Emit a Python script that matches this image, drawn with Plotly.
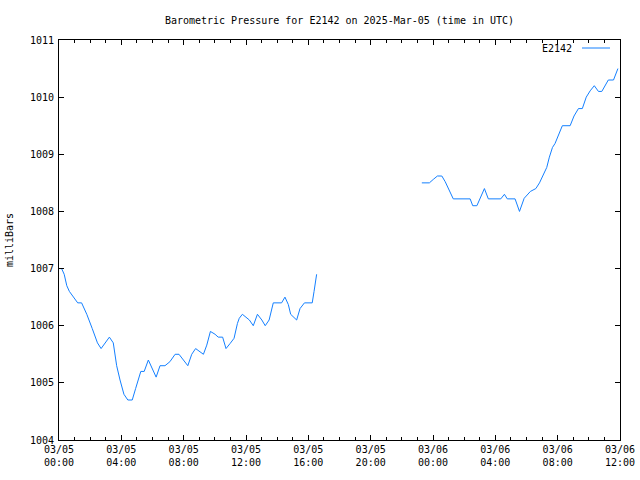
import plotly.graph_objects as go

times = [
    "2025-03-05 00:00", "2025-03-05 00:10", "2025-03-05 00:20", "2025-03-05 00:30",
    "2025-03-05 00:40", "2025-03-05 00:55", "2025-03-05 01:12", "2025-03-05 01:27",
    "2025-03-05 01:47", "2025-03-05 02:08", "2025-03-05 02:28", "2025-03-05 02:42",
    "2025-03-05 03:14", "2025-03-05 03:29", "2025-03-05 03:42", "2025-03-05 03:55",
    "2025-03-05 04:10", "2025-03-05 04:25", "2025-03-05 04:42", "2025-03-05 04:55",
    "2025-03-05 05:15", "2025-03-05 05:28", "2025-03-05 05:44", "2025-03-05 06:14",
    "2025-03-05 06:29", "2025-03-05 06:48", "2025-03-05 07:07", "2025-03-05 07:27",
    "2025-03-05 07:42", "2025-03-05 08:16", "2025-03-05 08:31", "2025-03-05 08:46",
    "2025-03-05 09:16", "2025-03-05 09:29", "2025-03-05 09:43", "2025-03-05 10:01",
    "2025-03-05 10:13", "2025-03-05 10:30", "2025-03-05 10:43", "2025-03-05 10:59",
    "2025-03-05 11:14", "2025-03-05 11:27", "2025-03-05 11:34", "2025-03-05 11:46",
    "2025-03-05 12:13", "2025-03-05 12:28", "2025-03-05 12:44", "2025-03-05 13:01",
    "2025-03-05 13:14", "2025-03-05 13:29", "2025-03-05 13:45", "2025-03-05 14:17",
    "2025-03-05 14:30", "2025-03-05 14:43", "2025-03-05 14:52", "2025-03-05 15:15",
    "2025-03-05 15:28", "2025-03-05 15:45", "2025-03-05 16:15", "2025-03-05 16:22",
    "2025-03-05 16:32",
    "2025-03-05 20:00",
    "2025-03-05 23:17", "2025-03-05 23:46", "2025-03-06 00:01", "2025-03-06 00:17",
    "2025-03-06 00:34", "2025-03-06 00:47", "2025-03-06 01:18", "2025-03-06 02:23",
    "2025-03-06 02:33", "2025-03-06 02:49", "2025-03-06 03:18", "2025-03-06 03:33",
    "2025-03-06 04:21", "2025-03-06 04:35", "2025-03-06 04:46", "2025-03-06 05:16",
    "2025-03-06 05:33", "2025-03-06 05:51", "2025-03-06 06:15", "2025-03-06 06:36",
    "2025-03-06 06:50", "2025-03-06 07:05", "2025-03-06 07:18", "2025-03-06 07:28",
    "2025-03-06 07:40", "2025-03-06 07:50", "2025-03-06 08:03", "2025-03-06 08:18",
    "2025-03-06 08:48", "2025-03-06 09:03", "2025-03-06 09:20", "2025-03-06 09:35",
    "2025-03-06 09:50", "2025-03-06 10:05", "2025-03-06 10:21", "2025-03-06 10:37",
    "2025-03-06 10:50", "2025-03-06 11:15", "2025-03-06 11:35", "2025-03-06 11:45",
    "2025-03-06 11:52",
]

pressure = [
    1007.0, 1007.0, 1006.9, 1006.7,
    1006.6, 1006.5, 1006.4, 1006.4,
    1006.2, 1005.95, 1005.7, 1005.6,
    1005.8, 1005.7, 1005.3, 1005.05,
    1004.8, 1004.7, 1004.7, 1004.9,
    1005.2, 1005.2, 1005.4, 1005.1,
    1005.3, 1005.3, 1005.37, 1005.5,
    1005.5, 1005.3, 1005.5, 1005.6,
    1005.5, 1005.66, 1005.9, 1005.85,
    1005.8, 1005.8, 1005.6, 1005.69,
    1005.78, 1006.04, 1006.13, 1006.2,
    1006.1, 1006.0, 1006.2, 1006.1,
    1006.0, 1006.1, 1006.4, 1006.4,
    1006.5, 1006.37, 1006.2, 1006.1,
    1006.3, 1006.4, 1006.4, 1006.6,
    1006.9,
    None,
    1008.5, 1008.5, 1008.56, 1008.62,
    1008.62, 1008.52, 1008.22, 1008.22,
    1008.1, 1008.1, 1008.4, 1008.22,
    1008.22, 1008.3, 1008.22, 1008.22,
    1008.0, 1008.23, 1008.35, 1008.4,
    1008.5, 1008.64, 1008.77, 1008.95,
    1009.12, 1009.19, 1009.34, 1009.5,
    1009.5, 1009.67, 1009.8, 1009.8,
    1010.0, 1010.11, 1010.2, 1010.1,
    1010.1, 1010.3, 1010.3, 1010.42,
    1010.5,
]

station = "E2142"
title_text = "Barometric Pressure for E2142 on 2025-Mar-05 (time in UTC)"
y_label = "milliBars"
line_color = "#1480ff"
font_family = "DejaVu Sans Mono"

fig = go.Figure()
fig.add_trace(go.Scatter(
    x=times, y=pressure, mode="lines",
    line=dict(color=line_color, width=1),
    connectgaps=False, name=station, showlegend=False,
))

fig.update_layout(
    width=640, height=480,
    margin=dict(l=59, r=20, t=40, b=40, autoexpand=False),
    paper_bgcolor="white", plot_bgcolor="white",
    font=dict(family=font_family, size=10, color="black"),
    title=dict(text=title_text, x=0.5, xref="paper", xanchor="center",
               y=1 - 20 / 480, yanchor="middle",
               font=dict(family=font_family, size=10, color="black")),
)

fig.update_xaxes(
    type="date", automargin=False,
    range=["2025-03-05 00:00", "2025-03-06 12:00"],
    tick0="2025-03-05 00:00", dtick=4 * 3600 * 1000,
    tickformat="%m/%d<br>%H:%M",
    ticks="inside", ticklen=5, tickcolor="black", tickwidth=1,
    minor=dict(dtick=3600 * 1000, ticks="inside", ticklen=3,
               tickcolor="black", tickwidth=1, showgrid=False),
    showline=True, linecolor="black", linewidth=1, mirror="ticks",
    showgrid=False, zeroline=False,
    tickfont=dict(family=font_family, size=10),
)

fig.update_yaxes(
    automargin=False,
    range=[1004, 1011], dtick=1, tick0=1004,
    ticks="inside", ticklen=5, tickcolor="black", tickwidth=1,
    ticklabelstandoff=2,
    showline=True, linecolor="black", linewidth=1, mirror="ticks",
    showgrid=False, zeroline=False,
    title=dict(text=y_label, standoff=14, font=dict(family=font_family, size=10)),
    tickfont=dict(family=font_family, size=10),
)

# gnuplot-style key: text on the left, line sample on the right
fig.add_annotation(
    xref="paper", yref="paper", x=(574 - 59) / 561, y=(440 - 48) / 400,
    text=station, showarrow=False, xanchor="right", yanchor="middle",
    font=dict(family=font_family, size=10, color="black"),
)
fig.add_shape(
    type="line", xref="paper", yref="paper",
    x0=(582 - 59) / 561, x1=(610 - 59) / 561,
    y0=(440 - 48) / 400, y1=(440 - 48) / 400,
    line=dict(color=line_color, width=1),
)

fig.write_html("out.html", config={"displayModeBar": False},
               post_script="document.body.style.margin='0';")
